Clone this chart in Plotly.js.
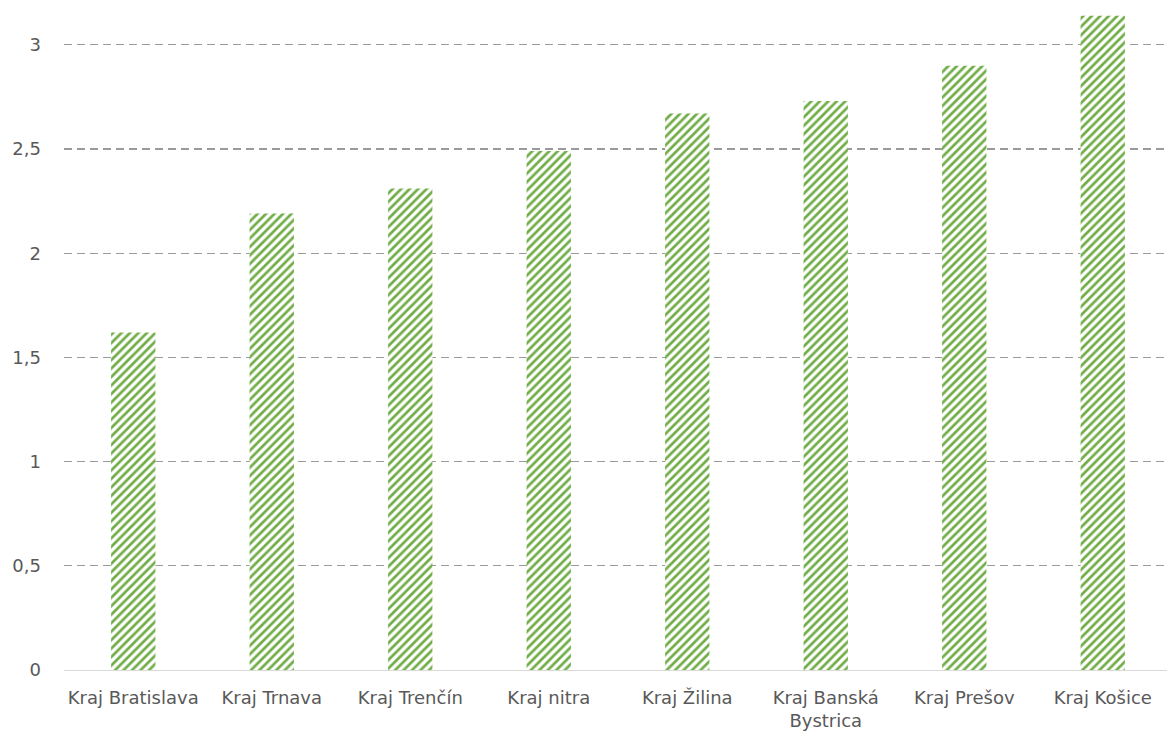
<!DOCTYPE html>
<html>
<head>
<meta charset="utf-8">
<script src="https://cdn.plot.ly/plotly-3.0.1.min.js"></script>
<style>html,body{margin:0;padding:0;overflow:hidden;background:#fff}</style>
</head>
<body>
<div id="chart"></div>
<script>
const categories = ["Kraj Bratislava", "Kraj Trnava", "Kraj Trenčín", "Kraj nitra", "Kraj Žilina", "Kraj Banská<br>Bystrica", "Kraj Prešov", "Kraj Košice"];
const values = [1.62, 2.19, 2.31, 2.49, 2.67, 2.73, 2.90, 3.14];

const trace = {
  type: "bar",
  x: categories,
  y: values,
  marker: {
    color: "#ffffff",
    line: {width: 0},
    pattern: {shape: "/", fgcolor: "#70AD47", bgcolor: "#ffffff", size: 6, solidity: 0.45}
  },
  hoverinfo: "none"
};

const layout = {
  width: 1172,
  height: 738,
  margin: {l: 64, r: 0, t: 0, b: 68},
  paper_bgcolor: "#ffffff",
  plot_bgcolor: "#ffffff",
  separators: ", ",
  bargap: 0.68,
  showlegend: false,
  font: {family: "DejaVu Sans, sans-serif", size: 18, color: "#595959"},
  xaxis: {
    type: "category",
    range: [-0.5, 7.5],
    showgrid: false,
    showline: true,
    linecolor: "#D9D9D9",
    linewidth: 1,
    ticks: "",
    ticklabelstandoff: 11,
    tickfont: {size: 18, color: "#595959"},
    fixedrange: true
  },
  yaxis: {
    range: [0, 3.215],
    dtick: 0.5,
    tick0: 0,
    showgrid: true,
    gridcolor: "#9A9A9A",
    griddash: "8px,5px",
    gridwidth: 1.3,
    zeroline: false,
    showline: false,
    ticks: "",
    ticklabelstandoff: 22,
    tickfont: {size: 18, color: "#595959"},
    fixedrange: true
  }
};

Plotly.newPlot("chart", [trace], layout, {displayModeBar: false, staticPlot: true});
</script>
</body>
</html>
